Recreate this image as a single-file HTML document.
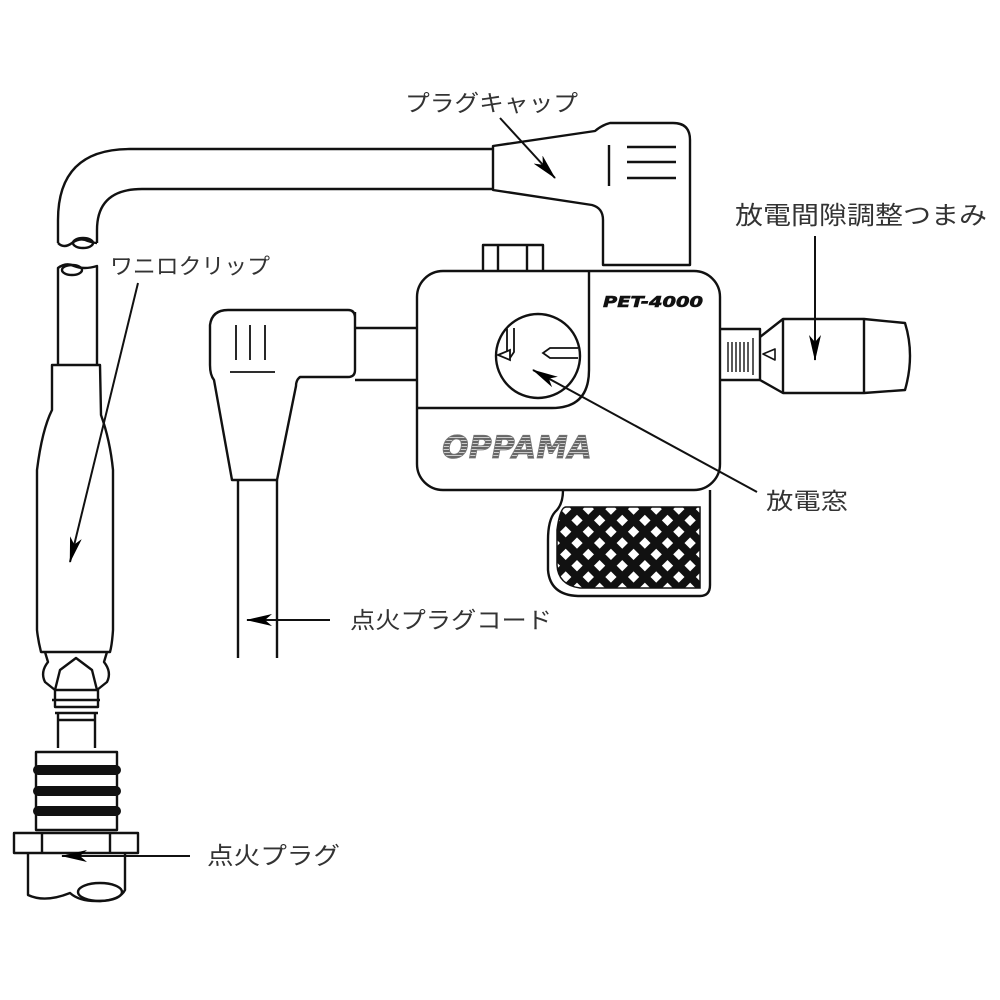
<!DOCTYPE html>
<html><head><meta charset="utf-8"><style>
html,body{margin:0;padding:0;background:#fff}
svg{display:block}
text{font-family:"Liberation Sans","Noto Sans CJK JP",sans-serif;fill:#333}
</style></head><body>
<svg width="1000" height="1000" viewBox="0 0 1000 1000" xmlns="http://www.w3.org/2000/svg">
<defs>
<marker id="ah" viewBox="0 0 26 12" refX="25" refY="6" markerWidth="26" markerHeight="12" markerUnits="userSpaceOnUse" orient="auto">
<path d="M0,0 L26,6 L0,12 L7,6 Z" fill="#000"/>
</marker>
<pattern id="knurl" width="16" height="16" patternUnits="userSpaceOnUse" patternTransform="rotate(45)">
<rect width="16" height="16" fill="#111"/>
<rect x="4" y="4" width="8" height="8" fill="#fff"/>
</pattern>
<pattern id="stripe" width="4" height="3" patternUnits="userSpaceOnUse">
<rect width="4" height="3" fill="#ccc"/><rect width="4" height="2" fill="#666"/>
</pattern>
</defs>
<g fill="none" stroke="#111" stroke-width="2.4" stroke-linejoin="round">
<path d="M493,149 L130,149 Q58,149 58,220 L58,243"/>
<path d="M493,189 L142,189 Q97,189 97,230 L97,243"/>
<path d="M58,243 q6,6 14,0 q8,-6 16,-2 q6,2 9,2" />
<ellipse cx="83" cy="243" rx="10" ry="5"/>
<path d="M58,365 L58,268 q8,-6 16,-2 q10,4 23,0 L97,365"/>
<ellipse cx="72" cy="270" rx="10" ry="5"/>
<path d="M52,365 L100,365 L101,415 Q110,440 113,470 L113,630 Q112,645 110,652 L41,652 Q38,640 37,630 L37,470 Q42,430 52,410 Z"/>
<path d="M45,652 L48,662 Q40,672 45,682 L55,690 L60,670 L76,658 L92,670 L97,690 L107,682 Q112,672 104,662 L107,652"/>
<path d="M55,690 L55,707 L98,707 L98,690 Z"/>
<path d="M52,700 L100,700 M55,713 L98,713"/>
<path d="M58,713 L58,748 M95,713 L95,748 M58,720 L95,720"/>
<path d="M36,752 L117,752 L117,830 L36,830 Z"/>
<path d="M14,833 L138,833 L138,853 L14,853 Z M42,833 L42,853 M110,833 L110,853"/>
<path d="M28,853 L28,895 Q45,903 70,893 Q80,902 100,901 Q120,900 125,890 L125,853"/>
<ellipse cx="100" cy="892" rx="22" ry="9"/>
<path d="M493,146 L493,190 L592,205 Q603,208 603,220 L603,265 L690,265 L690,140 Q690,123 673,123 L610,123 Q602,125 595,131 Z"/>
<path d="M609,145 L609,186 M627,147 L676,147 M627,162 L676,162 M627,178 L676,178"/>
<path d="M355,312 L355,370 Q355,377 348,377 L300,377 Q296,380 296,386 L277,480 L232,480 L214,380 Q210,375 210,365 L210,325 Q212,310 228,310 L348,310 Q355,310 355,318"/>
<path d="M236,325 L236,360 M250,325 L250,360 M265,325 L265,360 M230,372 L275,372" stroke-width="1.8"/>
<path d="M355,328 L417,328 M355,380 L417,380"/>
<path d="M238,480 L238,658 M277,480 L277,658"/>
<path d="M483,271 L483,245 L543,245 L543,271 M498,245 L498,271 M527,245 L527,271"/>
<rect x="417" y="271" width="303" height="219" rx="26"/>
<path d="M589,271 L589,370 Q589,408 552,408 L417,408" />
<circle cx="538" cy="356" r="42"/>
<path d="M720,329 L760,329 L760,380 L720,380"/>
<path d="M760,337 L783,319 L864,319 L905,323 Q915,355 905,390 L864,393 L783,393 L760,380"/>
<path d="M783,319 L783,393 M864,319 L864,393"/>
<path d="M728,342 L728,372 M732,342 L732,372 M736,342 L736,372 M740,342 L740,372 M744,342 L744,372 M748,342 L748,372 M753,338 L753,375" stroke-width="1.4"/>
<path d="M763,354 L775,349 L775,360 Z" stroke-width="1.6"/>
<path d="M563,490 Q563,505 555,512 Q548,520 548,540 L548,570 Q550,595 578,596 L700,596 Q710,596 710,585 L710,490"/>
</g>
<path d="M566,507 L700,507 L700,588 L580,588 Q558,585 557,565 L557,530 Q560,507 566,507 Z" fill="url(#knurl)" stroke="#111" stroke-width="1.5"/>
<g stroke="#111" stroke-width="1.8" fill="#fff">
<path d="M507,328 L507,352 L510,358 L514,352 L514,328"/>
<path d="M498,355 L510,350 L510,360 Z"/>
<path d="M578,348 L550,348 L543,353 L550,358 L578,358"/>
</g>
<text x="405" y="111" font-size="23" textLength="173" lengthAdjust="spacingAndGlyphs">プラグキャップ</text>
<text x="735" y="224" font-size="25" textLength="252" lengthAdjust="spacingAndGlyphs">放電間隙調整つまみ</text>
<text x="110" y="274" font-size="22" textLength="160" lengthAdjust="spacingAndGlyphs">ワニロクリップ</text>
<text x="766" y="509" font-size="23" textLength="82" lengthAdjust="spacingAndGlyphs">放電窓</text>
<text x="350" y="628" font-size="23" textLength="202" lengthAdjust="spacingAndGlyphs">点火プラグコード</text>
<text x="207" y="864" font-size="24" textLength="133" lengthAdjust="spacingAndGlyphs">点火プラグ</text>
<text x="603" y="307" font-size="15" font-weight="bold" font-style="italic" textLength="100" lengthAdjust="spacingAndGlyphs" style="fill:#111;stroke:#111;stroke-width:0.6;font-family:'DejaVu Sans',sans-serif">PET-4000</text>
<text x="442" y="458" font-size="31" font-weight="bold" font-style="italic" textLength="150" lengthAdjust="spacingAndGlyphs" style="fill:url(#stripe);stroke:#777;stroke-width:0.8;font-family:'DejaVu Sans',sans-serif">OPPAMA</text>
<g stroke="#111" stroke-width="2" fill="none">
<line x1="500" y1="118" x2="555" y2="178" marker-end="url(#ah)"/>
<line x1="815" y1="236" x2="815" y2="360" marker-end="url(#ah)"/>
<line x1="138" y1="283" x2="70" y2="562" marker-end="url(#ah)"/>
<line x1="757" y1="492" x2="533" y2="370" marker-end="url(#ah)"/>
<line x1="330" y1="620" x2="247" y2="620" marker-end="url(#ah)"/>
<line x1="190" y1="856" x2="62" y2="856" marker-end="url(#ah)"/>
</g>
<g fill="#111">
<rect x="33" y="765" width="88" height="10" rx="5"/>
<rect x="33" y="786" width="88" height="10" rx="5"/>
<rect x="33" y="806" width="88" height="10" rx="5"/>
</g>
</svg>
</body></html>
